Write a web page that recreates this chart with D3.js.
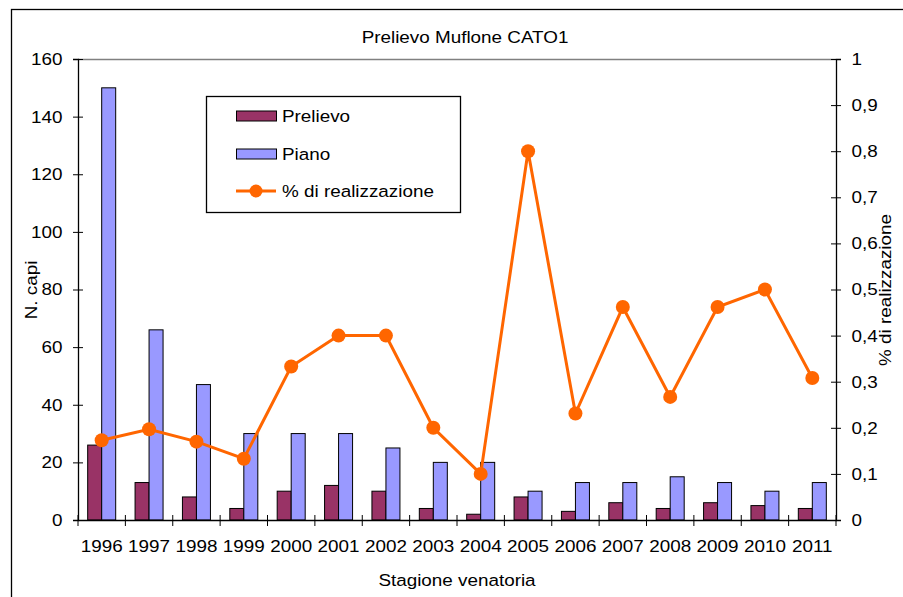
<!DOCTYPE html>
<html>
<head>
<meta charset="utf-8">
<script src="https://cdn.jsdelivr.net/npm/d3@7"></script>
<style>
  body { margin: 0; background: #fff; }
  svg { display: block; font-family: "Liberation Sans", Arial, sans-serif; }
</style>
</head>
<body>
<svg id="chart" width="903" height="597"></svg>
<script>
// data
var years = ["1996","1997","1998","1999","2000","2001","2002","2003","2004","2005","2006","2007","2008","2009","2010","2011"];
var prelievo = [26, 13, 8, 4, 10, 12, 10, 4, 2, 8, 3, 6, 4, 6, 5, 4];
var piano = [150, 66, 47, 30, 30, 30, 25, 20, 20, 10, 13, 13, 15, 13, 10, 13];
var realizzazione = [0.173, 0.197, 0.17, 0.133, 0.333, 0.4, 0.4, 0.2, 0.1, 0.8, 0.231, 0.462, 0.267, 0.462, 0.5, 0.308];
var leftTicks = [0, 20, 40, 60, 80, 100, 120, 140, 160];
var rightTicks = [0, 0.1, 0.2, 0.3, 0.4, 0.5, 0.6, 0.7, 0.8, 0.9, 1];

var svg = d3.select("#chart"),
    plotLeft = 78, plotRight = 836, plotTop = 59, plotBottom = 520,
    fontSize = "17px",
    stretch = "scale(1.11,1)";   // the reference text is a bit wider than plain Arial

// outer chart frame
svg.append("rect")
    .attr("x", 11.5).attr("y", 9.5)
    .attr("width", 1000).attr("height", 1000)
    .attr("fill", "none").attr("stroke", "#000").attr("stroke-width", 1.3);

var x = d3.scaleBand().domain(years).range([plotLeft, plotRight]);
var xs = d3.scaleBand().domain(["prelievo", "piano"])
    .range([x.bandwidth() / 2 - 14, x.bandwidth() / 2 + 14]);
var y = d3.scaleLinear().domain([0, 160]).range([plotBottom, plotTop]);
var y2 = d3.scaleLinear().domain([0, 1]).range([plotBottom, plotTop]);

// plot area top border
svg.append("line")
    .attr("x1", plotLeft).attr("x2", plotRight)
    .attr("y1", plotTop + 0.5).attr("y2", plotTop + 0.5)
    .attr("stroke", "#808080").attr("stroke-width", 1.5);

// bars
var groups = svg.append("g").selectAll("g")
    .data(years).enter().append("g")
    .attr("transform", function(d) { return "translate(" + x(d) + ",0)"; });

groups.append("rect")
    .attr("x", xs("prelievo"))
    .attr("width", xs.bandwidth())
    .attr("y", function(d, i) { return y(prelievo[i]); })
    .attr("height", function(d, i) { return plotBottom - y(prelievo[i]); })
    .attr("fill", "#993366").attr("stroke", "#000").attr("stroke-width", 1);

groups.append("rect")
    .attr("x", xs("piano"))
    .attr("width", xs.bandwidth())
    .attr("y", function(d, i) { return y(piano[i]); })
    .attr("height", function(d, i) { return plotBottom - y(piano[i]); })
    .attr("fill", "#9999ff").attr("stroke", "#000").attr("stroke-width", 1);

// axes
var yAxis = svg.append("g")
    .attr("transform", "translate(" + plotLeft + ",0)")
    .call(d3.axisLeft(y).tickValues(leftTicks).tickSize(5).tickPadding(9));
yAxis.selectAll(".tick line").attr("x2", 5).attr("x1", -5);

var y2Axis = svg.append("g")
    .attr("transform", "translate(" + plotRight + ",0)")
    .call(d3.axisRight(y2).tickValues(rightTicks).tickSize(5).tickPadding(9)
        .tickFormat(function(d) { return d3.format("~g")(d).replace(".", ","); }));
y2Axis.selectAll(".tick line").attr("x1", -5).attr("x2", 5);

var xAxis = svg.append("g")
    .attr("transform", "translate(0," + plotBottom + ")")
    .call(d3.axisBottom(x).tickSize(0).tickPadding(20));

// category boundary ticks
svg.append("g").selectAll("line")
    .data(years.concat(["end"])).enter().append("line")
    .attr("x1", function(d, i) { return plotLeft + i * x.step(); })
    .attr("x2", function(d, i) { return plotLeft + i * x.step(); })
    .attr("y1", plotBottom - 5).attr("y2", plotBottom + 6)
    .attr("stroke", "#000");

[yAxis, y2Axis, xAxis].forEach(function(a) {
    a.select(".domain").attr("stroke", "#000").attr("stroke-width", 1.3);
    a.selectAll(".tick line").attr("stroke", "#000");
    a.selectAll("text").attr("font-size", fontSize).attr("fill", "#000")
        .attr("transform", stretch)
        .style("font-family", "'Liberation Sans', Arial, sans-serif");
});

// line series
var line = d3.line()
    .x(function(d, i) { return x(years[i]) + x.bandwidth() / 2; })
    .y(function(d) { return y2(d); });

svg.append("path")
    .datum(realizzazione)
    .attr("d", line)
    .attr("fill", "none").attr("stroke", "#ff6600").attr("stroke-width", 3);

svg.append("g").selectAll("circle")
    .data(realizzazione).enter().append("circle")
    .attr("cx", function(d, i) { return x(years[i]) + x.bandwidth() / 2; })
    .attr("cy", function(d) { return y2(d); })
    .attr("r", 7)
    .attr("fill", "#ff6600");

// titles
function label(tx, ty, rot, txt) {
    svg.append("text")
        .attr("transform", "translate(" + tx + "," + ty + ")" + (rot ? " rotate(-90)" : "") + " " + stretch)
        .attr("text-anchor", "middle").attr("font-size", fontSize)
        .text(txt);
}
label(465, 43, false, "Prelievo Muflone CATO1");
label(457, 586, false, "Stagione venatoria");
label(37, 290, true, "N. capi");
label(891, 290, true, "% di realizzazione");

// legend
var legend = svg.append("g");
legend.append("rect")
    .attr("x", 206.5).attr("y", 96.5).attr("width", 254).attr("height", 116)
    .attr("fill", "#fff").attr("stroke", "#000").attr("stroke-width", 1.3);

var legendItems = [
    { label: "Prelievo", color: "#993366", type: "bar", cy: 116 },
    { label: "Piano", color: "#9999ff", type: "bar", cy: 154 },
    { label: "% di realizzazione", color: "#ff6600", type: "line", cy: 191 }
];

legendItems.forEach(function(d) {
    if (d.type === "bar") {
        legend.append("rect")
            .attr("x", 236.5).attr("y", d.cy - 5).attr("width", 40).attr("height", 10)
            .attr("fill", d.color).attr("stroke", "#000").attr("stroke-width", 1);
    } else {
        legend.append("line")
            .attr("x1", 236).attr("x2", 276).attr("y1", d.cy).attr("y2", d.cy)
            .attr("stroke", d.color).attr("stroke-width", 3);
        legend.append("circle")
            .attr("cx", 256).attr("cy", d.cy).attr("r", 6.5).attr("fill", d.color);
    }
    legend.append("text")
        .attr("transform", "translate(282," + (d.cy + 6) + ") " + stretch)
        .attr("font-size", fontSize)
        .text(d.label);
});
</script>
</body>
</html>
